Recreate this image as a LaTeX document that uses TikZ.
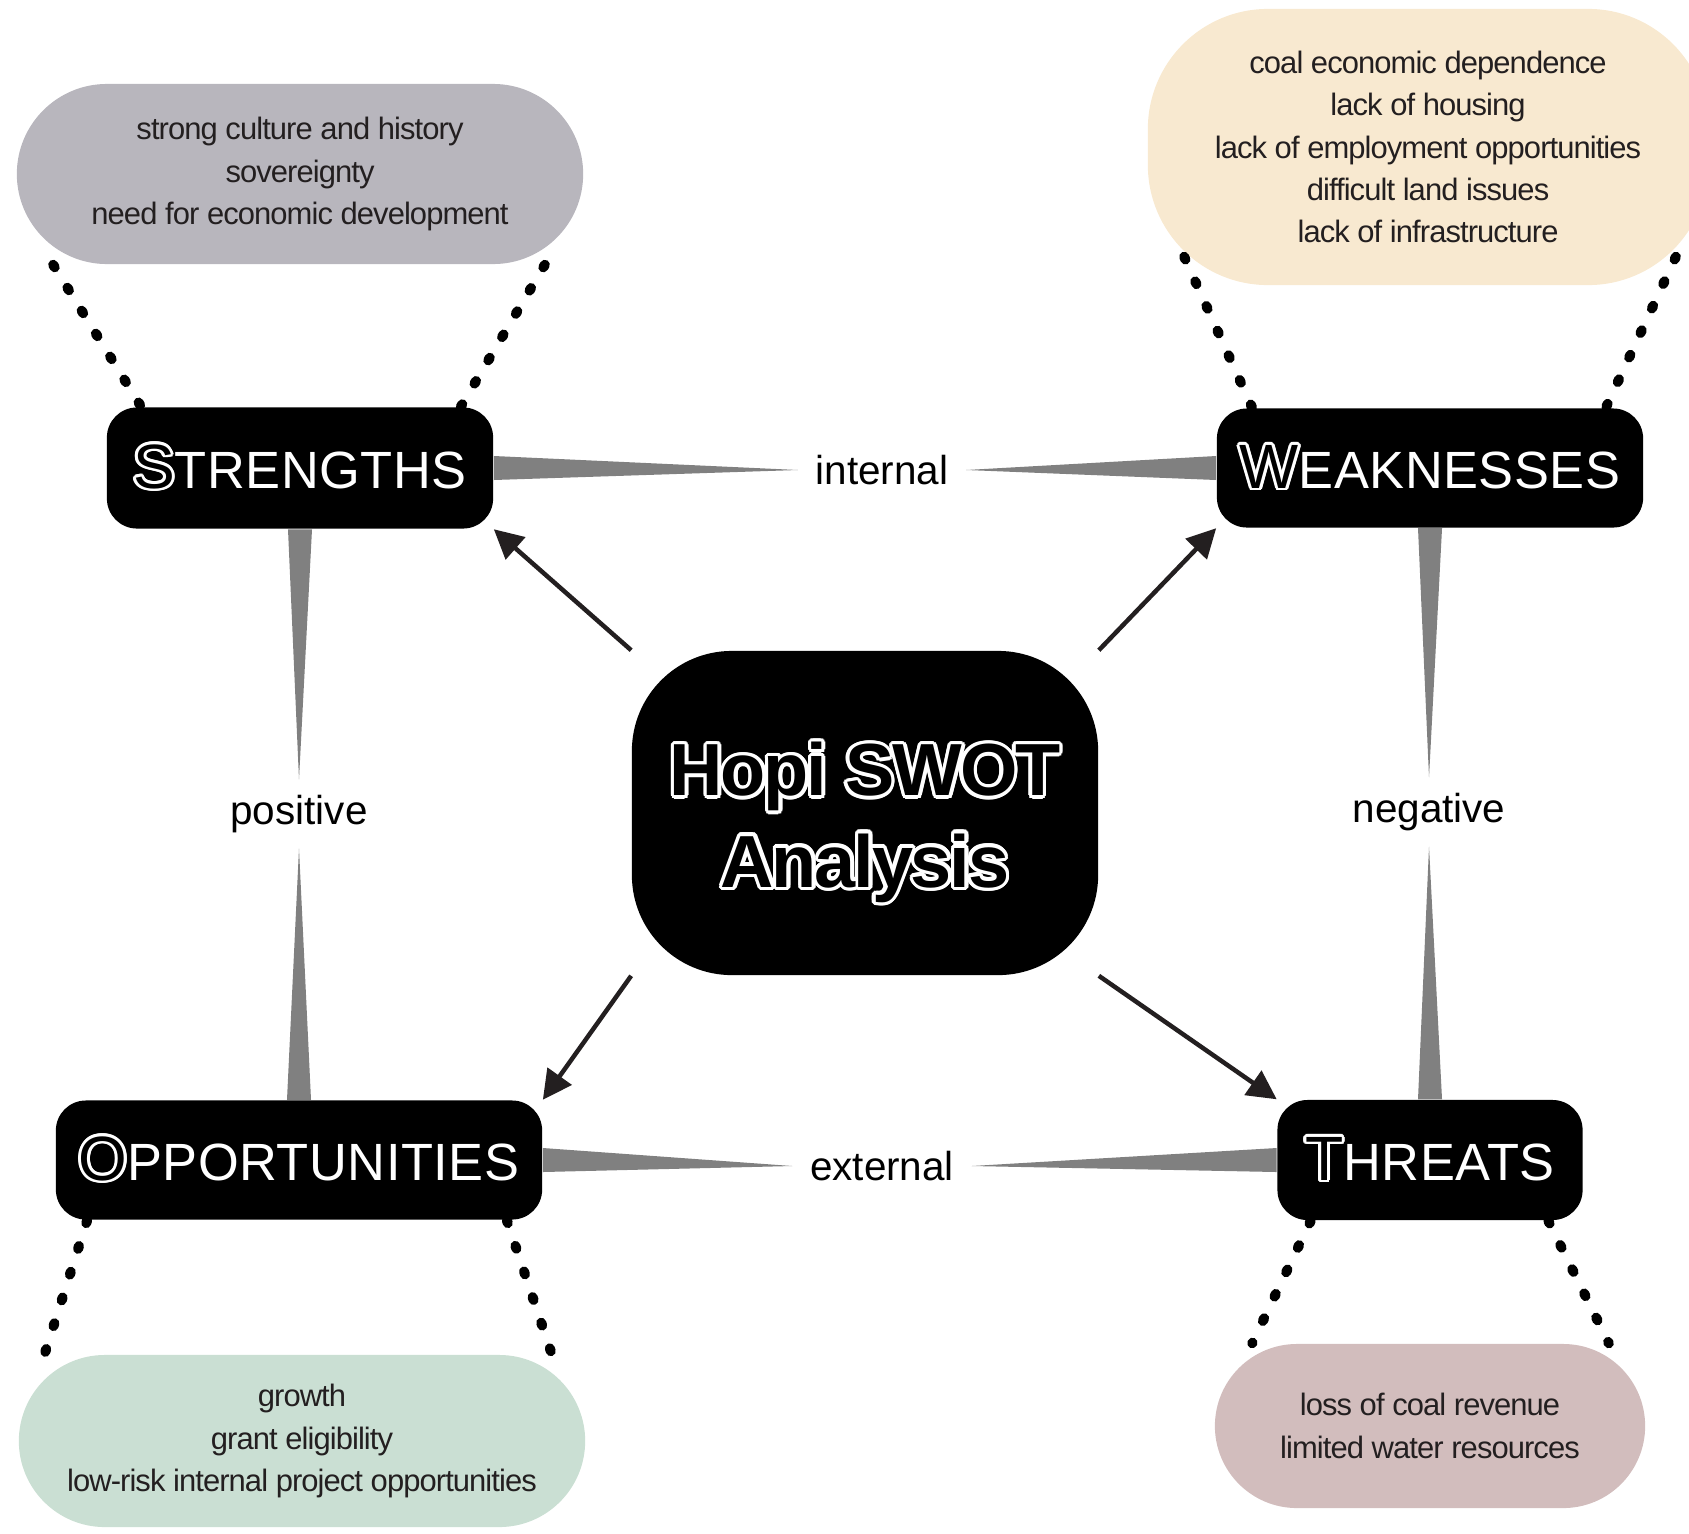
\documentclass[tikz,border=0pt]{standalone}
\usepackage{fontspec}
\setmainfont{Liberation Sans}
\newfontfamily\itemfont[LetterSpace=-3,WordSpace=0.8]{Liberation Sans}
\newfontfamily\headfont[LetterSpace=1]{Liberation Sans}
\newfontfamily\hubfont[LetterSpace=-3]{Liberation Sans}
\usepackage[copies]{contour}
\contourlength{0.8pt}
\usetikzlibrary{arrows.meta}

\definecolor{darkink}{HTML}{231F20}
\definecolor{wedgegray}{HTML}{808080}
\definecolor{strcol}{HTML}{B8B6BD}
\definecolor{weakcol}{HTML}{F8E9D0}
\definecolor{oppcol}{HTML}{CADFD3}
\definecolor{thrcol}{HTML}{D2BDBD}

% big outlined initial, rest plain
\newcommand{\headword}[2]{\textcolor{black}{\fontsize{17.8pt}{18pt}\selectfont\contour{white}{#1}}\fontsize{14.9pt}{18pt}\selectfont #2}

\tikzset{
  headbox/.style={fill=black, rounded corners=0.3cm, text=white, font=\headfont, inner sep=0pt},
  hubbox/.style={fill=black, rounded corners=1cm, inner sep=0pt},
  hubtext/.style={text=black, align=center, inner sep=0pt,
    font=\hubfont\bfseries\fontsize{21pt}{26pt}\selectfont},
  ideabox/.style={fill=#1, align=center, text=darkink, inner sep=0pt,
    font=\itemfont\fontsize{8.8pt}{12pt}\selectfont},
  axislabel/.style={font=\fontsize{11.5pt}{14pt}\selectfont, inner xsep=0.17cm, inner ysep=0.15cm},
  wedge/.style={fill=wedgegray},
  leader/.style={line width=0.1cm, line cap=round, dash pattern=on 0.03cm off 0.24cm},
  link/.style={draw=darkink, line width=0.045cm, -{Triangle[length=0.29cm,width=0.29cm]}}
}

\begin{document}
\begin{tikzpicture}[x=0.01cm,y=-0.01cm]
\useasboundingbox (0,0) rectangle (1689,1533);

% the four headings and the hub
\node[headbox, minimum width=3.86cm, minimum height=1.21cm] (str) at (300,468) {\headword{S}{TRENGTHS}};
\node[headbox, minimum width=4.26cm, minimum height=1.19cm] (weak) at (1430,468) {\headword{W}{EAKNESSES}};
\node[headbox, minimum width=4.86cm, minimum height=1.19cm] (opp) at (299,1160) {\headword{O}{PPORTUNITIES}};
\node[headbox, minimum width=3.05cm, minimum height=1.20cm] (thr) at (1430,1160) {\headword{T}{HREATS}};

\node[hubbox, minimum width=4.66cm, minimum height=3.24cm] (hub) at (865,813) {};
\node[hubtext] (hubtitle) at ([yshift=-0.11cm]hub.center)
  {\contourlength{1pt}\contour{white}{Hopi SWOT}\\\contourlength{1pt}\contour{white}{Analysis}};

% lists
\node[ideabox=strcol, rounded corners=0.9cm, minimum width=5.66cm, minimum height=1.80cm] (strlist) at (300,174)
  {strong culture and history\\sovereignty\\need for economic development};
\node[ideabox=weakcol, rounded corners=1.2cm, minimum width=5.60cm, minimum height=2.76cm] (weaklist) at (1428,147)
  {coal economic dependence\\lack of housing\\lack of employment opportunities\\difficult land issues\\lack of infrastructure};
\node[ideabox=oppcol, rounded corners=0.86cm, minimum width=5.66cm, minimum height=1.72cm] (opplist) at (302,1441)
  {growth\\grant eligibility\\low-risk internal project opportunities};
\node[ideabox=thrcol, rounded corners=0.82cm, minimum width=4.30cm, minimum height=1.64cm] (thrlist) at (1430,1426)
  {loss of coal revenue\\limited water resources};

% axis labels
\node[axislabel] (intl) at (882,470) {internal};
\node[axislabel] (extl) at (882,1166) {external};
\node[axislabel] (posl) at (299,814) {positive};
\node[axislabel] (negl) at (1429,812) {negative};

% tapered bars
\fill[wedge] ([yshift=0.12cm]str.east) -- ([yshift=-0.12cm]str.east) -- (intl.west) -- cycle;
\fill[wedge] ([yshift=0.12cm]weak.west) -- ([yshift=-0.12cm]weak.west) -- (intl.east) -- cycle;
\fill[wedge] ([yshift=0.12cm]opp.east) -- ([yshift=-0.12cm]opp.east) -- (extl.west) -- cycle;
\fill[wedge] ([yshift=0.12cm]thr.west) -- ([yshift=-0.12cm]thr.west) -- (extl.east) -- cycle;
\fill[wedge] ([xshift=-0.12cm]str.south) -- ([xshift=0.12cm]str.south) -- (posl.north) -- cycle;
\fill[wedge] ([xshift=-0.12cm]opp.north) -- ([xshift=0.12cm]opp.north) -- (posl.south) -- cycle;
\fill[wedge] ([xshift=-0.12cm]weak.south) -- ([xshift=0.12cm]weak.south) -- (negl.north) -- cycle;
\fill[wedge] ([xshift=-0.12cm]thr.north) -- ([xshift=0.12cm]thr.north) -- (negl.south) -- cycle;

% dotted leaders
\draw[leader] ([xshift=0.37cm]strlist.south west) -- ([xshift=0.35cm]str.north west);
\draw[leader] ([xshift=-0.39cm]strlist.south east) -- ([xshift=-0.33cm]str.north east);
\draw[leader] ([xshift=0.37cm,yshift=0.29cm]weaklist.south west) -- ([xshift=0.36cm]weak.north west);
\draw[leader] ([xshift=-0.33cm,yshift=0.29cm]weaklist.south east) -- ([xshift=-0.38cm]weak.north east);
\draw[leader] ([xshift=0.32cm]opp.south west) -- ([xshift=0.21cm,yshift=-0.17cm]opplist.north west);
\draw[leader] ([xshift=-0.36cm]opp.south east) -- ([xshift=-0.28cm,yshift=-0.18cm]opplist.north east);
\draw[leader] ([xshift=0.34cm]thr.south west) -- ([xshift=0.38cm]thrlist.north west);
\draw[leader] ([xshift=-0.35cm]thr.south east) -- ([xshift=-0.37cm]thrlist.north east);

% arrows out of the hub
\draw[link] (hub.north west) -- (str.south east);
\draw[link] (hub.north east) -- (weak.south west);
\draw[link] (hub.south west) -- (opp.north east);
\draw[link] (hub.south east) -- (thr.north west);

\end{tikzpicture}
\end{document}
